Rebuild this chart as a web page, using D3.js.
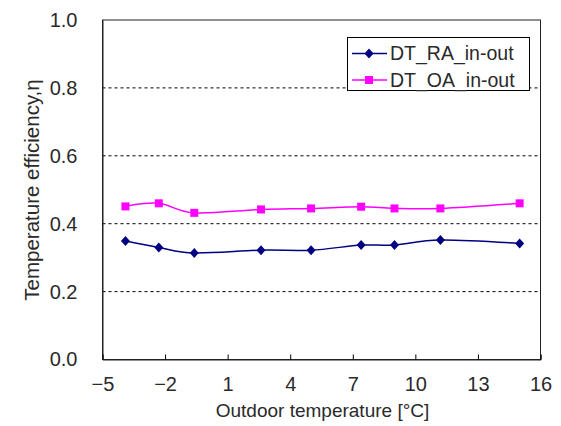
<!DOCTYPE html>
<meta charset="utf-8">
<title>Temperature efficiency</title>
<body style="margin:0;background:#fff">
<style>
text { font-family: "Liberation Sans", Arial, sans-serif; fill: #2a2a2a; }
</style>

<script src="https://d3js.org/d3.v7.min.js"></script>

<div id="chart"></div>

<script>

// data
var outdoorTemp = [-3.9, -2.3, -0.6, 2.6, 5.0, 7.4, 9.0, 11.2, 15.0];
var raValues = [0.349, 0.330, 0.314, 0.322, 0.322, 0.337, 0.337, 0.352, 0.342];
var oaValues = [0.451, 0.460, 0.432, 0.442, 0.445, 0.450, 0.445, 0.445, 0.460];
var seriesNames = ["DT_RA_in-out", "DT_OA_in-out"];
var xTicks = [-5, -2, 1, 4, 7, 10, 13, 16];
var yTicks = [0, 0.2, 0.4, 0.6, 0.8, 1.0];

var margin = {top: 20, right: 20.5, bottom: 66.5, left: 102.5},
    width = 561 - margin.left - margin.right,
    height = 426 - margin.top - margin.bottom;

var svg = d3.select("#chart")
  .append("svg")
    .attr("width", 561)
    .attr("height", 426)
  .append("g")
    .attr("transform", "translate(" + margin.left + "," + margin.top + ")");

var x = d3.scaleLinear().domain([-5, 16]).range([0, width]);
var y = d3.scaleLinear().domain([0, 1]).range([height, 0]);

// dashed grid
svg.append("g")
  .selectAll("line")
  .data(yTicks.filter(function(d) { return d > 0 && d < 1; }))
  .enter()
  .append("line")
    .attr("x1", 0)
    .attr("x2", width)
    .attr("y1", function(d) { return y(d); })
    .attr("y2", function(d) { return y(d); })
    .attr("stroke", "#000")
    .attr("stroke-dasharray", "3,3");

// plot frame
svg.append("rect")
  .attr("width", width)
  .attr("height", height)
  .attr("fill", "none")
  .attr("stroke", "#222");

// x axis, ticks pointing in
var xAxis = svg.append("g")
  .attr("transform", "translate(0," + height + ")")
  .call(d3.axisBottom(x).tickValues(xTicks).tickSize(-5).tickPadding(17).tickFormat(d3.format("d")));
xAxis.select(".domain").attr("stroke", "#222");
xAxis.selectAll("text").style("font-size", "20px");

// y axis
var yAxis = svg.append("g")
  .call(d3.axisLeft(y).tickValues(yTicks).tickSize(0).tickPadding(25).tickFormat(d3.format(".1f")));
yAxis.select(".domain").attr("stroke", "#222");
yAxis.selectAll("text").style("font-size", "20px");

// axis titles
svg.append("text")
  .attr("x", width / 2 + 1)
  .attr("y", height + 57)
  .attr("text-anchor", "middle")
  .style("font-size", "19px")
  .text("Outdoor temperature  [\u00b0C]");

svg.append("text")
  .attr("transform", "rotate(-90)")
  .attr("x", -(190 - margin.top))
  .attr("y", -margin.left + 39)
  .attr("text-anchor", "middle")
  .style("font-size", "20.5px")
  .text("Temperature efficiency,\u03b7");

var line = d3.line()
  .x(function(d, i) { return x(outdoorTemp[i]); })
  .y(function(d) { return y(d); })
  .curve(d3.curveCardinal.tension(0));

var color = ["#000080", "#ff00ff"];
var series = [raValues, oaValues];

series.forEach(function(vals, k) {
  svg.append("path")
    .datum(vals)
    .attr("fill", "none")
    .attr("stroke", color[k])
    .attr("stroke-width", 1.5)
    .attr("d", line);
});

// diamonds
svg.append("g")
  .selectAll("path")
  .data(raValues)
  .enter()
  .append("path")
    .attr("transform", function(d, i) { return "translate(" + x(outdoorTemp[i]) + "," + y(d) + ")"; })
    .attr("d", "M0,-5L4.5,0L0,5L-4.5,0Z")
    .attr("fill", color[0]);

// squares
svg.append("g")
  .selectAll("rect")
  .data(oaValues)
  .enter()
  .append("rect")
    .attr("x", function(d, i) { return x(outdoorTemp[i]) - 4; })
    .attr("y", function(d) { return y(d) - 4; })
    .attr("width", 8)
    .attr("height", 8)
    .attr("fill", color[1]);

// legend
var legend = svg.append("g")
  .attr("transform", "translate(" + (347 - margin.left) + "," + (37 - margin.top) + ")");

legend.append("rect")
  .attr("x", 0.5)
  .attr("y", 0.5)
  .attr("width", 182)
  .attr("height", 53)
  .attr("fill", "#fff")
  .attr("stroke", "#000");

seriesNames.forEach(function(name, k) {
  var ly = 16.5 + k * 26.5;
  legend.append("line")
    .attr("x1", 5)
    .attr("x2", 40)
    .attr("y1", ly)
    .attr("y2", ly)
    .attr("stroke", color[k])
    .attr("stroke-width", 1.5);
  if (k == 0) {
    legend.append("path")
      .attr("transform", "translate(22," + ly + ")")
      .attr("d", "M0,-5L4.5,0L0,5L-4.5,0Z")
      .attr("fill", color[0]);
  } else {
    legend.append("rect")
      .attr("x", 18)
      .attr("y", ly - 4)
      .attr("width", 8)
      .attr("height", 8)
      .attr("fill", color[1]);
  }
  legend.append("text")
    .attr("x", 43)
    .attr("y", ly)
    .attr("dy", "0.35em")
    .style("font-size", "19.5px")
    .text(name);
});

</script>
